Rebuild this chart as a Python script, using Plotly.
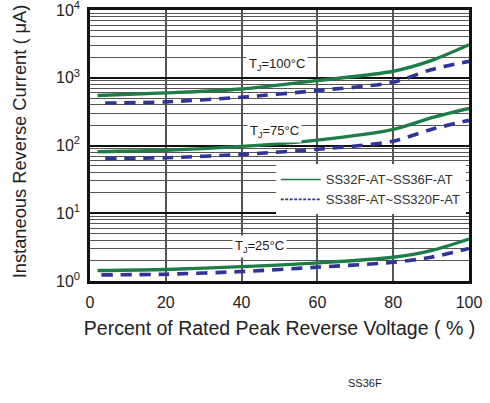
import plotly.graph_objects as go

x_green = [2, 20, 40, 60, 80, 90, 100]
x_blue = [4, 20, 40, 60, 80, 90, 100]
x_blue25 = [3, 20, 40, 60, 80, 90, 100]

g100 = [547, 598, 684, 910, 1248, 1791, 3076]
b100 = [422, 441, 517, 648, 859, 1318, 1749]
g75 = [81, 85, 97, 120, 173, 256, 352]
b75 = [64, 66, 74, 88, 116, 173, 235]
g25 = [1.43, 1.48, 1.63, 1.85, 2.24, 2.81, 4.17]
b25 = [1.23, 1.26, 1.38, 1.60, 1.89, 2.24, 3.03]

series_names = ["SS32F-AT~SS36F-AT", "SS38F-AT~SS320F-AT"]
x_ticks = [0, 20, 40, 60, 80, 100]
y_ticks = [1, 10, 100, 1000, 10000]
y_ticktext = ["10<sup>0</sup>", "10<sup>1</sup>", "10<sup>2</sup>", "10<sup>3</sup>", "10<sup>4</sup>"]

GREEN = "#1e7d46"
BLUE = "#2e3596"
FONT = "Liberation Sans, Arial, sans-serif"

fig = go.Figure()
for ys in (g100, g75, g25):
    fig.add_trace(go.Scatter(x=x_green, y=ys, mode="lines", showlegend=False,
                             line=dict(color=GREEN, width=3.4, shape="spline", smoothing=0.8)))
for xs, ys in ((x_blue, b100), (x_blue, b75), (x_blue25, b25)):
    fig.add_trace(go.Scatter(x=xs, y=ys, mode="lines", showlegend=False,
                             line=dict(color=BLUE, width=3.6, dash="11px,8px",
                                       shape="spline", smoothing=0.8)))

fig.add_trace(go.Scatter(x=[None], y=[None], mode="lines", name=series_names[0],
                         line=dict(color=GREEN, width=1.5)))
fig.add_trace(go.Scatter(x=[None], y=[None], mode="lines", name=series_names[1],
                         line=dict(color=BLUE, width=1.8, dash="3px,1.5px")))

labels = [("T<sub>J</sub>=100°C", 49.3, 3.2), ("T<sub>J</sub>=75°C", 48.8, 2.2),
          ("T<sub>J</sub>=25°C", 44.6, 0.515)]
for txt, ax, ay in labels:
    fig.add_annotation(x=ax, y=ay, text=txt, showarrow=False, bgcolor="white",
                       borderpad=2, font=dict(family=FONT, size=13, color="#222"))

fig.add_annotation(x=0.7256, y=-0.377, xref="paper", yref="paper", text="SS36F",
                   xanchor="center", yanchor="middle",
                   showarrow=False, font=dict(family=FONT, size=11, color="#222"))

fig.add_annotation(x=-0.185, y=0.515, xref="paper", yref="paper",
                   xanchor="center", yanchor="middle",
                   text="Instaneous Reverse Current ( μA)", textangle=-90,
                   showarrow=False, font=dict(family=FONT, size=18.3, color="#222"))

fig.update_layout(
    width=490, height=403,
    margin=dict(l=90, r=21, t=10, b=122),
    paper_bgcolor="white", plot_bgcolor="white",
    font=dict(family=FONT, size=14, color="#222"),
    legend=dict(x=0.49, y=0.43, xanchor="left", yanchor="top", bgcolor="white",
                font=dict(family=FONT, size=13, color="#333"),
                tracegroupgap=0, itemwidth=40),
    xaxis=dict(range=[0, 100], tickvals=x_ticks, showgrid=True, gridcolor="#555",
               gridwidth=1.5, zeroline=False, showline=True, linecolor="#111",
               linewidth=2.5, mirror=True, ticks="", automargin=False,
               ticklabelstandoff=5, ticklabeloverflow="allow",
               title=dict(text="Percent of Rated Peak Reverse Voltage ( % )",
                          font=dict(size=19.5), standoff=12),
               tickfont=dict(size=16)),
    yaxis=dict(type="log", range=[0, 4.0005], tickvals=y_ticks, ticktext=y_ticktext,
               showgrid=True, gridcolor="#111", gridwidth=2, zeroline=False,
               showline=True, linecolor="#111", linewidth=2.5, mirror=True,
               ticks="", automargin=False, ticklabelstandoff=4,
               ticklabeloverflow="allow",
               minor=dict(showgrid=True, gridcolor="#555", gridwidth=1, dtick="D1"),
               tickfont=dict(size=16)),
)

fig.write_html("out.html", post_script="document.body.style.margin='0';",
               config={"displayModeBar": False})
